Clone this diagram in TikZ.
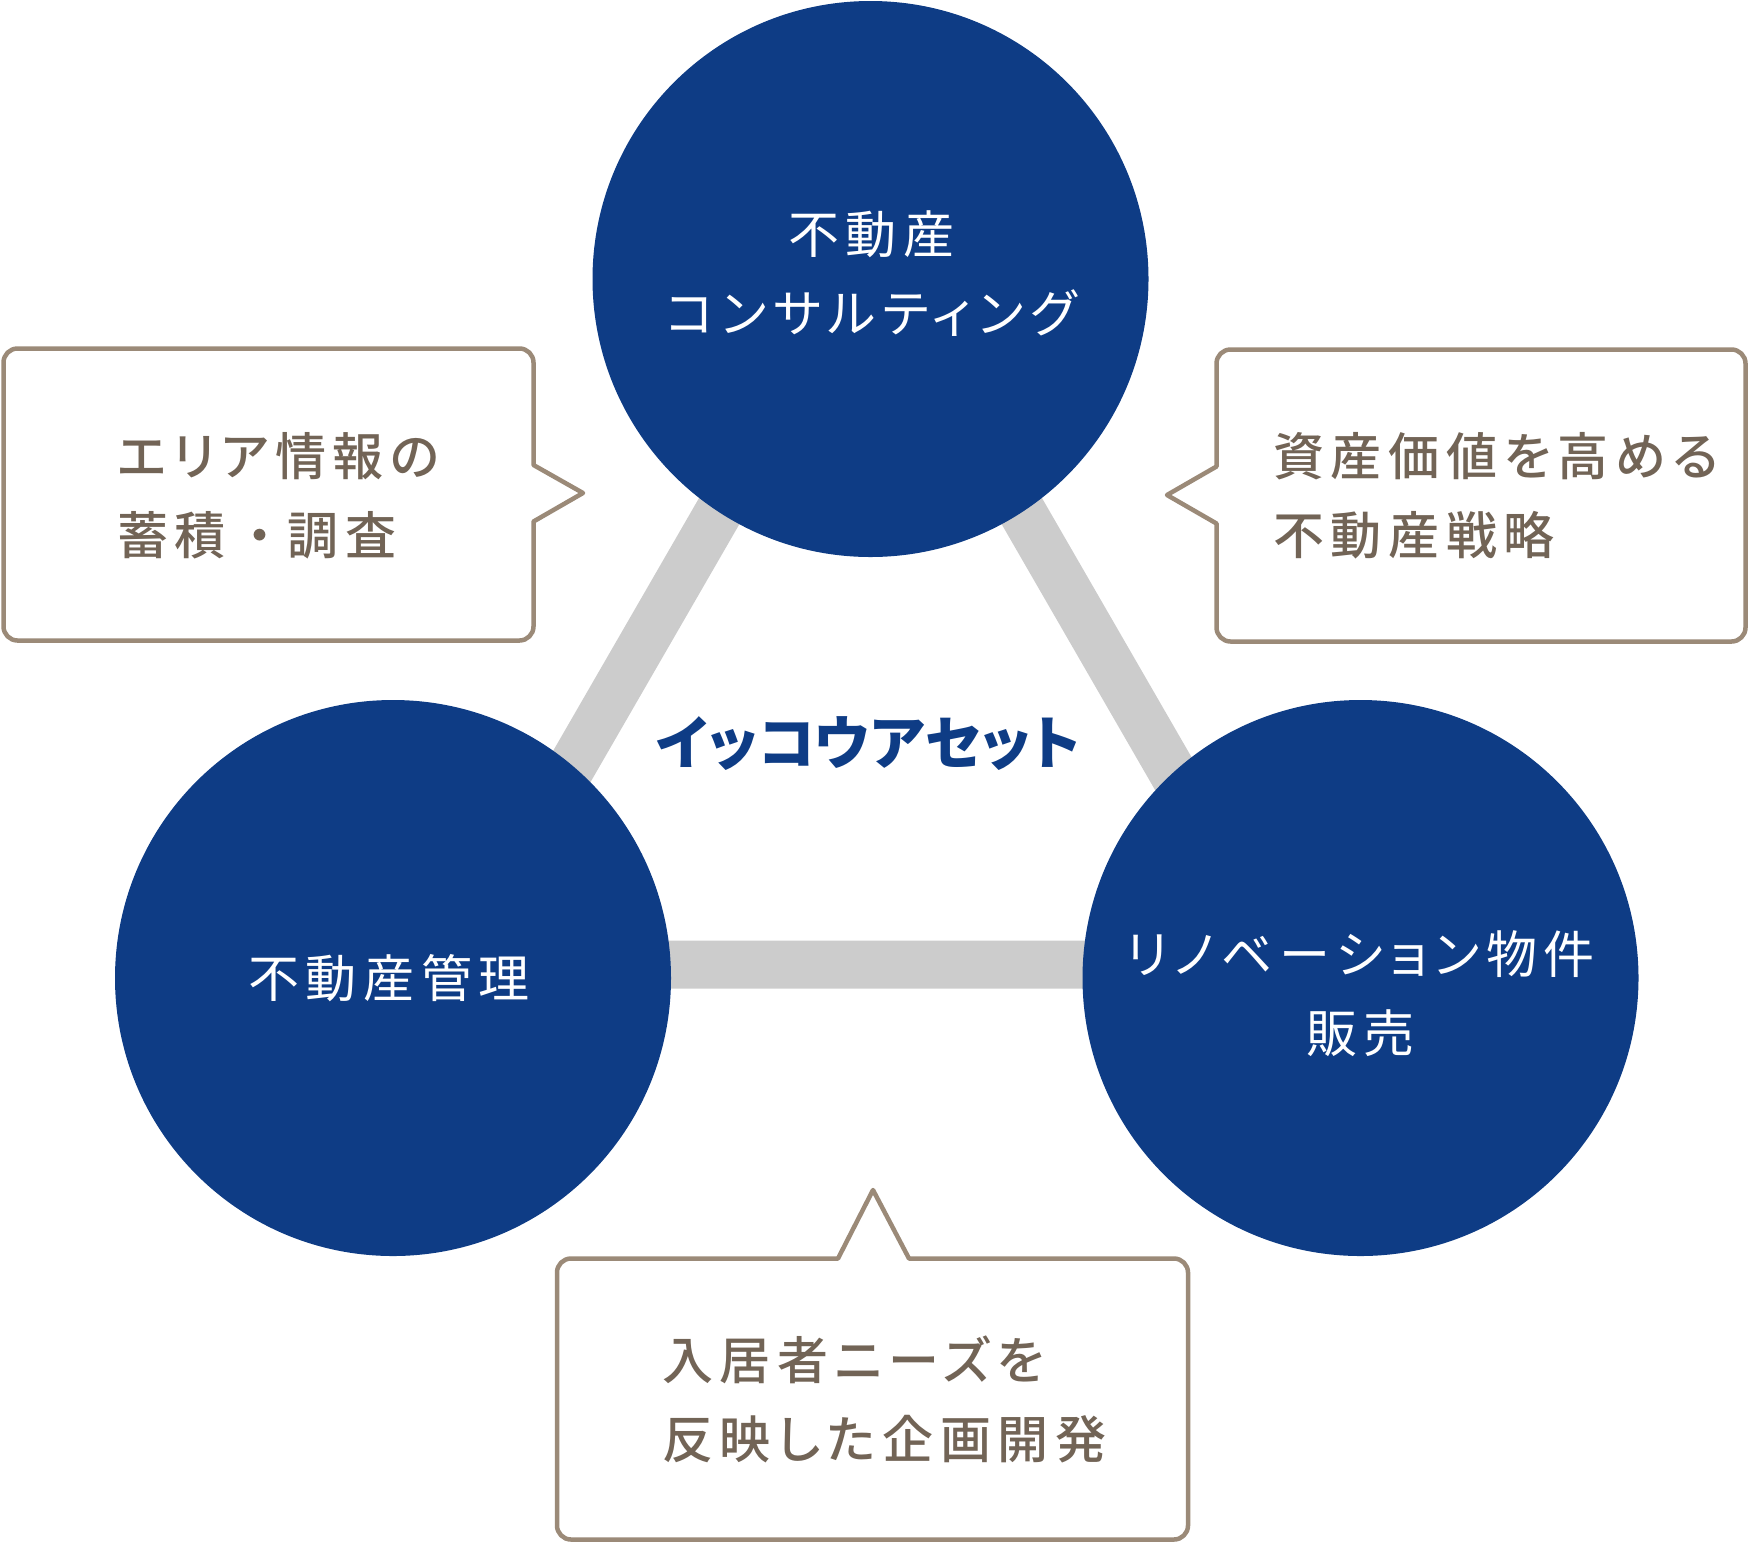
\documentclass[tikz,border=0pt]{standalone}
\usepackage{fontspec}
\usepackage{xcolor}
\usetikzlibrary{calc}
\newfontfamily\jpfont{Noto Sans CJK JP}[RawFeature=+palt, LetterSpace=13]
\newfontfamily\jpmedfont{Noto Sans CJK JP Medium}[RawFeature=+palt, LetterSpace=13]
\newfontfamily\jpwidefont{Noto Sans CJK JP Medium}[LetterSpace=13]
\newfontfamily\jpboldfont{Noto Sans CJK JP}[RawFeature=+palt, LetterSpace=2]
\definecolor{navyBlue}{RGB}{14,60,133}
\definecolor{barGrey}{RGB}{204,204,204}
\definecolor{calloutLine}{RGB}{155,138,120}
\definecolor{calloutText}{RGB}{114,100,86}
\tikzset{
    x=1pt, y=-1pt,
    circ/.style={shape=circle, fill=navyBlue, minimum size=556pt, inner sep=0pt},
    circ text/.style={text=white, align=center, inner sep=0pt, font=\jpfont\fontsize{51}{79}\selectfont},
    bar/.style={draw=barGrey, line width=48pt},
    callout/.style={draw=calloutLine, fill=white, line width=4.5pt, line join=round},
    callout text/.style={text=calloutText, align=left, anchor=west, inner sep=0pt, font=\jpmedfont\fontsize{51}{79}\selectfont},
    company text/.style={text=navyBlue, inner sep=0pt, font=\jpboldfont\bfseries\fontsize{58}{70}\selectfont}
}
\begin{document}
\begin{tikzpicture}
    \useasboundingbox (0,0) rectangle (1750,1543);
    % triangle behind the circles
    \coordinate (triTop) at (870.5,249);
    \coordinate (triLeft) at (457.5,964.5);
    \coordinate (triRight) at (1283.5,964.5);
    \draw[bar] (triLeft) -- (triTop) -- (triRight) -- cycle;
    % circles
    \node(consulting)[circ] at (870.5,279) {};
    \node(management)[circ] at (393,978) {};
    \node(renovation)[circ] at (1360.5,978) {};
    \node(consultingText)[circ text] at ($(consulting)+(1,-5)$) {不動産\\コンサルティング};
    \node(managementText)[circ text] at ($(management)+(-4,0)$) {不動産管理};
    \node(renovationText)[circ text] at ($(renovation)+(0,16)$) {リノベーション物件\\販売};
    \node(company)[company text] at (868,744) {イッコウアセット};
    % callouts
    \draw[callout] (583,493) -- (533.5,521.5) [rounded corners=14pt] -- (533.5,640.5) -- (3.5,640.5) -- (3.5,348.5) -- (533.5,348.5) [sharp corners] -- (533.5,465) -- cycle;
    \draw[callout] (1167,495) -- (1216.5,466.5) [rounded corners=14pt] -- (1216.5,349.5) -- (1745.5,349.5) -- (1745.5,641.5) -- (1216.5,641.5) [sharp corners] -- (1216.5,523.5) -- cycle;
    \draw[callout] (873,1190) -- (909,1258.5) [rounded corners=14pt] -- (1188,1258.5) -- (1188,1539.5) -- (557,1539.5) -- (557,1258.5) [sharp corners] -- (838,1258.5) -- cycle;
    \node(areaText)[callout text] at (117,496) {エリア情報の\\蓄積{\jpwidefont\hspace{9pt}・\hspace{2pt}}調査};
    \node(valueText)[callout text] at (1273,496) {資産価値を高める\\不動産戦略};
    \node(needsText)[callout text] at (662,1399) {入居者ニーズを\\反映した企画開発};
\end{tikzpicture}
\end{document}
